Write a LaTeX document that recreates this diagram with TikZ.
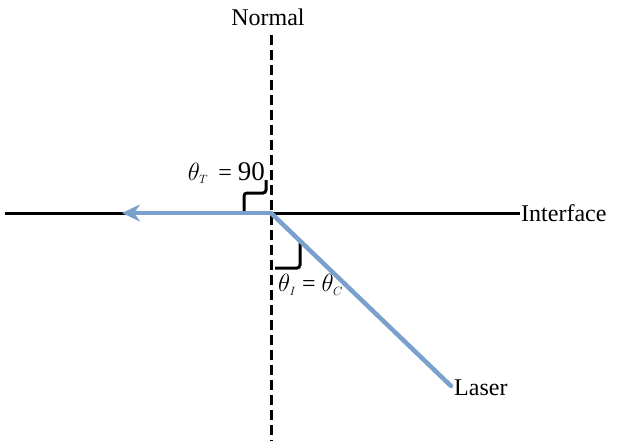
\documentclass[tikz,border=0pt]{standalone}
\usepackage{fontspec}
\setmainfont{Liberation Serif}
\usepackage{amsmath}
\usetikzlibrary{arrows.meta, positioning, calc}
\definecolor{raycol}{RGB}{122,160,205}

\begin{document}
\begin{tikzpicture}[
  x=1pt, y=-1pt,
  font=\fontsize{24}{28}\selectfont, >=Stealth,
  lbl/.style={inner sep=1pt},
  normline/.style={line width=3pt, dash pattern=on 10pt off 5pt},
  iface/.style={line width=3pt},
  ray/.style={line width=4.5pt, raycol},
  brk/.style={line width=3pt, rounded corners=3pt}
]
  \useasboundingbox (0,0) rectangle (623,445);

  % points on the drawing
  \coordinate (O)    at (271,213);
  \coordinate (ntop) at (271,35);
  \coordinate (nbot) at (271,441);
  \coordinate (ileft) at (5,213);
  \coordinate (src)  at (451,386);
  \coordinate (tip)  at (122,213);

  \node[lbl] (normal) at (268,17) {Normal};
  \node[lbl, anchor=west] (interface) at (520,213) {Interface};
  \node[lbl, anchor=west] (laser) at (453,388) {Laser};
  \node[lbl, anchor=east] (thT) at (266,173) {$\theta_{\scriptscriptstyle T}$\, = {\fontsize{27}{28}\selectfont 90}};
  \node[lbl, anchor=west] (thI) at (277,285) {$\theta_{\scriptscriptstyle I}$ = $\theta_{\scriptscriptstyle C}$};

  \draw[normline] (ntop) -- (nbot);
  \draw[iface] (ileft) -- (interface.west);

  % angle marks
  \draw[brk] (244,213) -- (244,193) -- (266,193) -- (266,180);
  \draw[brk] (300,243) -- (300,268) -- (275,268);

  % laser path
  \draw[ray, line cap=round] (src) -- (O);
  \draw[ray, -{Stealth[length=18pt, width=17pt]}] (O) -- (tip);
\end{tikzpicture}
\end{document}
